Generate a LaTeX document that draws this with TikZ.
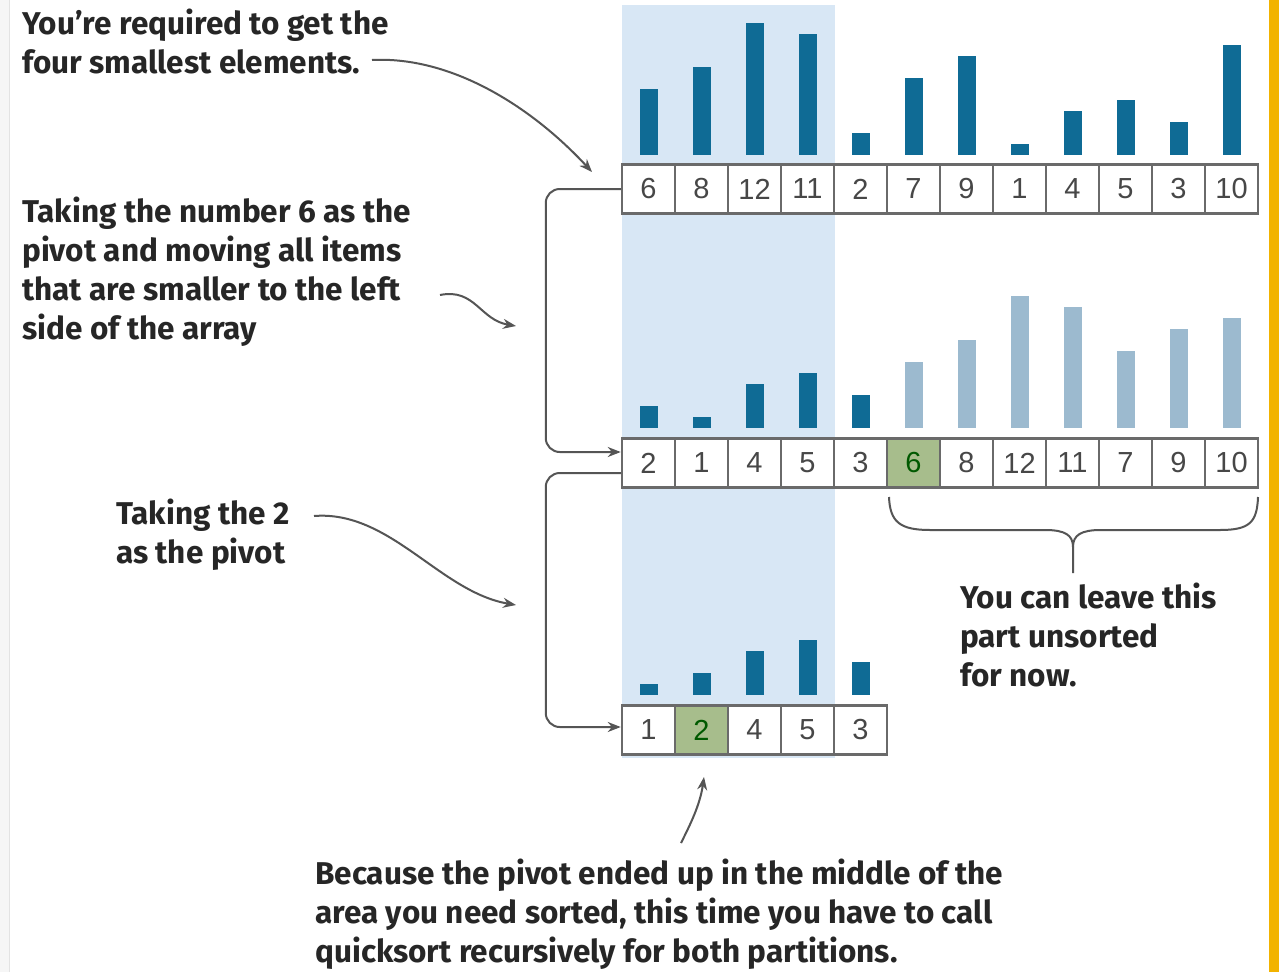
\documentclass[tikz,border=0pt]{standalone}
\usepackage{fontspec}
\setmainfont{Fira Sans}
\newfontfamily\cellfont{Liberation Sans}
\usetikzlibrary{calc,arrows.meta}
\definecolor{barc}{HTML}{0F6B95}
\definecolor{barf}{HTML}{9CBACF}
\definecolor{shadec}{HTML}{D8E7F5}
\definecolor{pivotc}{HTML}{A7BD8C}
\definecolor{cellline}{HTML}{6A6A6A}
\definecolor{txt}{HTML}{262626}
\definecolor{conncol}{HTML}{555555}
\definecolor{framec}{HTML}{F2B300}
\begin{document}
\begin{tikzpicture}[x=1pt,y=-1pt,
 cellbox/.style={draw=cellline, line width=2.5pt, minimum width=53pt, minimum height=49pt, inner sep=0pt, font=\cellfont\fontsize{29}{29}\selectfont},
 note/.style={font=\bfseries\fontsize{31.5}{39}\selectfont, text=txt, align=left, inner sep=0pt, anchor=base west},
 conn/.style={draw=conncol, line width=2pt, -{Stealth[length=13pt,width=10pt]}},
]
\useasboundingbox (0,0) rectangle (1279,972);
\fill[white] (0,0) rectangle (1279,972);
\fill[gray!7] (0,0) rectangle (9,972);
\draw[gray!22, line width=1pt] (9,0) -- (9,972);
\fill[framec] (1269,0) rectangle (1279,972);
% shaded column
\fill[shadec] (622,5) rectangle (835,758);
% top row
\foreach \v [count=\i] in {6,8,12,11,2,7,9,1,4,5,3,10} {
  \fill[barc] (595.5+53*\i-9,155) rectangle (595.5+53*\i+9,155-11*\v);
  \node[cellbox, fill=white, text=txt!85] (t\i) at (595.5+53*\i,189) {\v};
}
% middle row
\foreach \v [count=\i] in {2,1,4,5,3,6,8,12,11,7,9,10} {
  \ifnum\i<6 \def\bc{barc}\else\def\bc{barf}\fi
  \ifnum\i=6 \def\cf{pivotc}\def\tc{green!35!black}\else\def\cf{white}\def\tc{txt!85}\fi
  \fill[\bc] (595.5+53*\i-9,428) rectangle (595.5+53*\i+9,428-11*\v);
  \node[cellbox, fill=\cf, text=\tc] (m\i) at (595.5+53*\i,463) {\v};
}
% bottom row
\foreach \v [count=\i] in {1,2,4,5,3} {
  \ifnum\i=2 \def\cf{pivotc}\def\tc{green!35!black}\else\def\cf{white}\def\tc{txt!85}\fi
  \fill[barc] (595.5+53*\i-9,695) rectangle (595.5+53*\i+9,695-11*\v);
  \node[cellbox, fill=\cf, text=\tc] (b\i) at (595.5+53*\i,730) {\v};
}
% notes (base anchor = last line's baseline)
\node[note] (n1) at (22,73) {You’re required to get the\\four smallest elements.};
\node[note] (n2) at (22,339) {Taking the number 6 as the\\pivot and moving all items\\that are smaller to the left\\side of the array};
\node[note] (n3) at (116,563) {Taking the 2\\as the pivot};
\node[note] (n4) at (960,686) {You can leave this\\part unsorted\\for now.};
\node[note] (n5) at (315,962) {Because the pivot ended up in the middle of the\\area you need sorted, this time you have to call\\quicksort recursively for both partitions.};
% arrow ends
\coordinate (a1s) at (372,60);
\coordinate (a1e) at (592,172);
\coordinate (a2s) at (440,295);
\coordinate (a2e) at (516,326);
\coordinate (a3s) at (314,516);
\coordinate (a3e) at (516,605);
\coordinate (a4s) at (681,843);
\coordinate (a4e) at (704,777);
\draw[conn] (a1s) .. controls (450,56) and (530,105) .. (a1e);
\draw[conn] (a2s) .. controls (475,288) and (480,320) .. (a2e);
\draw[conn] (a3s) .. controls (390,510) and (440,592) .. (a3e);
\draw[conn] (a4s) .. controls (690,825) and (700,805) .. (a4e);
% brackets
\draw[conn, rounded corners=14pt] (t1.west) -- ++(-75,0) |- ($(m1.west)+(0,-11)$);
\draw[conn, rounded corners=14pt] ($(m1.west)+(0,10)$) -- ++(-75,0) |- ($(b1.west)+(0,-3)$);
% brace
\coordinate (bl) at (889,497);
\coordinate (br) at (1258,497);
\coordinate (btip) at (1073,573);
\draw[draw=conncol, line width=2pt] (bl) .. controls (890,522) and (900,530) .. (930,530) -- (1045,530) .. controls (1065,530) and (1073,535) .. (1073,547) -- (btip);
\draw[draw=conncol, line width=2pt] (1073,547) .. controls (1073,535) and (1081,530) .. (1101,530) -- (1220,530) .. controls (1250,530) and (1257,522) .. (br);
\end{tikzpicture}
\end{document}
